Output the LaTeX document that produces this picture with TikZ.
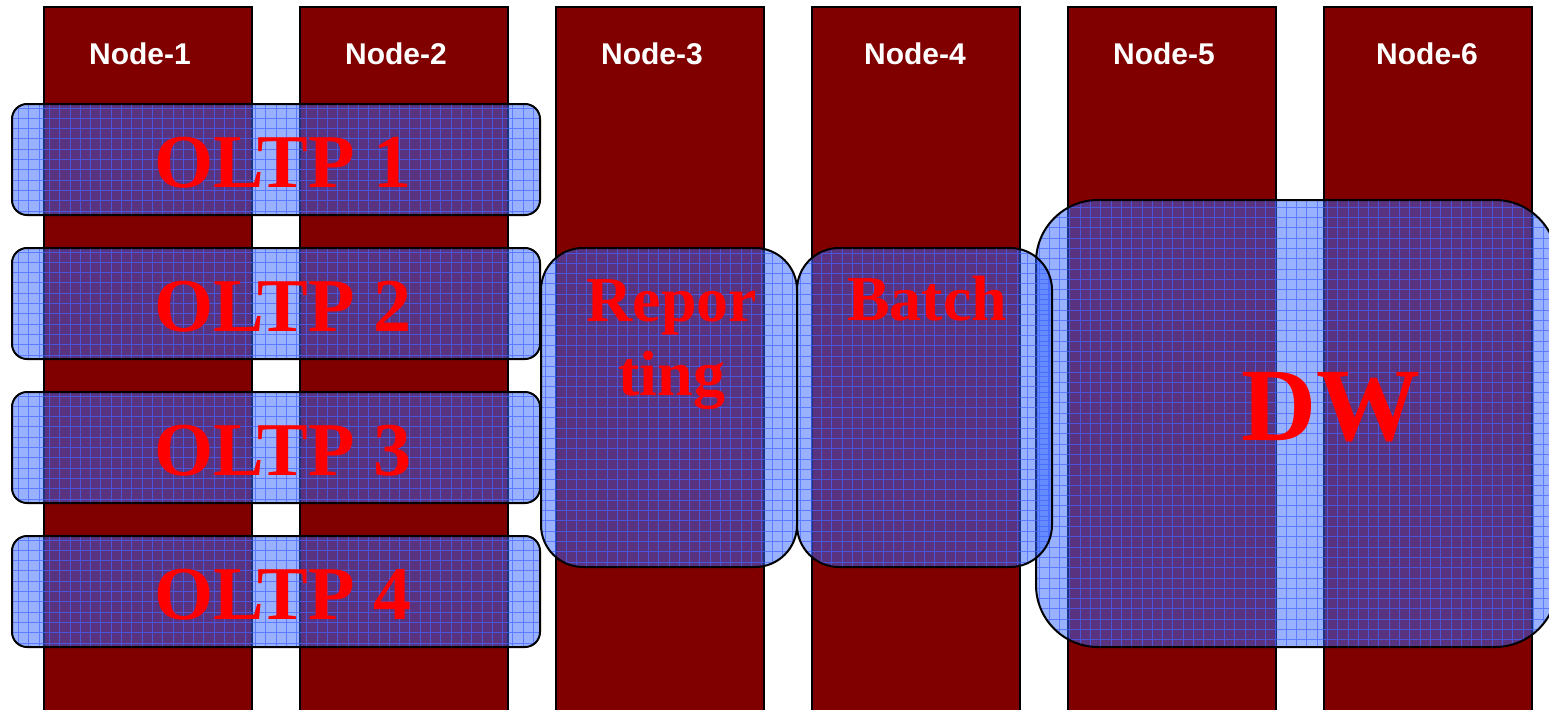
\documentclass[tikz,border=0pt]{standalone}
\usepackage{fontspec}
\setmainfont{Liberation Serif}
\newfontfamily\labelfont{Liberation Sans}
\definecolor{colred}{RGB}{128,0,0}
\definecolor{boxblue}{RGB}{51,102,255}
\definecolor{gridblue}{RGB}{70,100,255}
\definecolor{wltext}{RGB}{255,0,0}
\tikzset{
  colbar/.style={fill=colred, draw=black, line width=1.4pt, minimum width=208pt,
    minimum height=740pt, inner sep=0pt, outer sep=0pt, anchor=north},
  nodelabel/.style={text=white, anchor=base,
    font=\labelfont\bfseries\fontsize{30}{30}\selectfont},
  workload/.style={draw=black, line width=2pt, fill=boxblue, fill opacity=0.5,
    inner sep=0pt, outer sep=0pt,
    path picture={\draw[gridblue, line width=0.9pt, draw opacity=0.7]
      (path picture bounding box.south west) grid[step=10.3pt]
      (path picture bounding box.north east);}},
  wllabel/.style={text=wltext, anchor=base,
    font=\bfseries\fontsize{76}{76}\selectfont},
}
\begin{document}
\begin{tikzpicture}[x=1pt, y=-1pt]
  \useasboundingbox (0,0) rectangle (1549,709);
  \clip (0,0) rectangle (1549,709);
  \fill[white] (0,0) rectangle (1549,709);

  % cluster nodes
  \node[colbar] (c1) at (148,7) {};
  \node[colbar] (c2) at (404,7) {};
  \node[colbar] (c3) at (660,7) {};
  \node[colbar] (c4) at (916,7) {};
  \node[colbar] (c5) at (1172,7) {};
  \node[colbar] (c6) at (1428,7) {};

  \node[nodelabel] (l1) at (140,65) {Node-1};
  \node[nodelabel] (l2) at (396,65) {Node-2};
  \node[nodelabel] (l3) at (652,65) {Node-3};
  \node[nodelabel] (l4) at (915,65) {Node-4};
  \node[nodelabel] (l5) at (1164,65) {Node-5};
  \node[nodelabel] (l6) at (1427,65) {Node-6};

  % workloads spread over the nodes
  \node[workload, rounded corners=62pt, minimum width=521pt, minimum height=447pt]
    (dw) at (1296.5,423.5) {};
  \node[workload, rounded corners=42pt, minimum width=256pt, minimum height=319pt]
    (rep) at (669,407.5) {};
  \node[workload, rounded corners=42pt, minimum width=255pt, minimum height=319pt]
    (bat) at (924.5,407.5) {};
  \node[workload, rounded corners=15pt, minimum width=528pt, minimum height=111pt]
    (o1) at (276,159.5) {};
  \node[workload, rounded corners=15pt, minimum width=528pt, minimum height=111pt]
    (o2) at (276,303.5) {};
  \node[workload, rounded corners=15pt, minimum width=528pt, minimum height=111pt]
    (o3) at (276,447.5) {};
  \node[workload, rounded corners=15pt, minimum width=528pt, minimum height=111pt]
    (o4) at (276,591.5) {};

  % workload names
  \node[wllabel] (t1) at (283,187) {OLTP 1};
  \node[wllabel] (t2) at (283,331) {OLTP 2};
  \node[wllabel] (t3) at (283,475) {OLTP 3};
  \node[wllabel] (t4) at (283,619) {OLTP 4};
  \node[wllabel, font=\bfseries\fontsize{64}{64}\selectfont] (t5a) at (672,321) {Repor};
  \node[wllabel, font=\bfseries\fontsize{64}{64}\selectfont] (t5b) at (672,395) {ting};
  \node[wllabel, font=\bfseries\fontsize{64}{64}\selectfont] (t6) at (927,320) {Batch};
  \node[wllabel, font=\bfseries\fontsize{104}{104}\selectfont] (t7) at (1331,440) {DW};
\end{tikzpicture}
\end{document}
